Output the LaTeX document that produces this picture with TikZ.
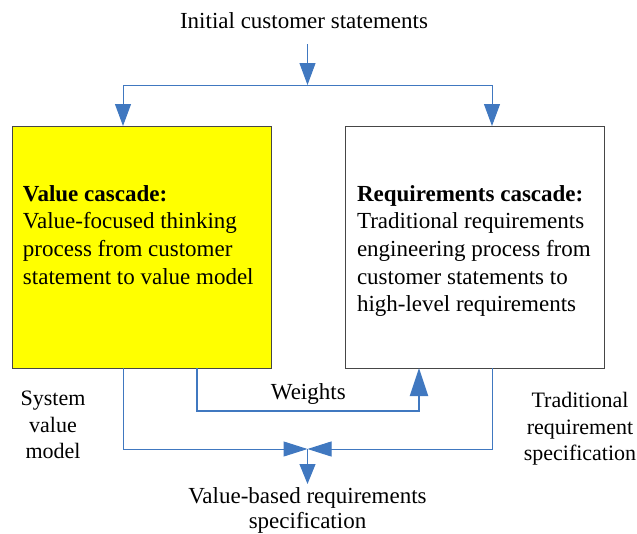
\documentclass[tikz,border=0pt]{standalone}
\usepackage{fontspec}
\setmainfont{Liberation Serif}
\usetikzlibrary{arrows.meta}
\definecolor{lineblue}{RGB}{64,120,192}
\definecolor{boxgray}{RGB}{70,70,70}
\definecolor{boxyellow}{RGB}{255,255,0}
\begin{document}
\begin{tikzpicture}[x=1pt,y=-1pt,
  every node/.style={inner sep=0pt, outer sep=0pt},
  lbl/.style={font=\fontsize{23}{27.7}\selectfont},
  side/.style={font=\fontsize{22}{26.5}\selectfont, align=center, anchor=north},
  box/.style={draw=boxgray, line width=1pt, minimum width=259pt, minimum height=242pt},
  conn/.style={draw=lineblue, line width=1pt},
  wconn/.style={draw=lineblue, line width=2pt},
  tip/.style={-{Triangle[length=22pt,width=16pt]}},
  mtip/.style={-{Triangle[length=24pt,width=15pt]}},
  wtip/.style={-{Triangle[length=28pt,width=18pt]}}
]
\useasboundingbox (0,0) rectangle (637,533);

% boxes
\node[box, fill=boxyellow] (vc) at (141.5,247) {};
\node[box, fill=white] (rc) at (474.5,247) {};

% box texts
\node[lbl, align=left, anchor=north west] (vct) at (23,185.2)
  {\textbf{Value cascade:}\\Value-focused thinking\\process from customer\\statement to value model};
\node[lbl, align=left, anchor=north west] (rct) at (357,185.2)
  {\textbf{Requirements cascade:}\\Traditional requirements\\engineering process from\\customer statements to\\high-level requirements};

% labels
\node[lbl, anchor=base] (ics) at (304,28.5) {Initial customer statements};
\node[lbl, anchor=base] (w) at (308.3,399.5) {Weights};
\node[side] (svm) at (53,391) {System\\value\\model};
\node[side] (trs) at (580,392.5) {Traditional\\requirement\\specification};
\node[lbl, font=\fontsize{23}{25}\selectfont, align=center, anchor=north] (vbr) at (307.5,487.5)
  {Value-based requirements\\specification};

% coordinates
\coordinate (icsout) at (307.5,44);
\coordinate (split) at (307.5,85);
\coordinate (vcin) at (123,126);
\coordinate (rcin) at (492,126);
\coordinate (vcout) at (123,368);
\coordinate (rcout) at (492,368);
\coordinate (wout) at (197,368);
\coordinate (win) at (419,368);
\coordinate (merge) at (307.5,449);
\coordinate (vbrin) at (307.5,484);

% top connectors
\draw[conn, tip] (icsout) -- (split);
\draw[conn, tip] (split) -| (vcin);
\draw[conn, tip] (split) -| (rcin);

% weights
\draw[wconn, wtip] (wout) -- ++(0,43) -| (win);

% merge
\draw[conn, mtip] (vcout) |- (merge);
\draw[conn, mtip] (rcout) |- (merge);
\draw[conn, -{Triangle[length=20pt,width=16pt]}] (merge) -- (vbrin);
\end{tikzpicture}
\end{document}
